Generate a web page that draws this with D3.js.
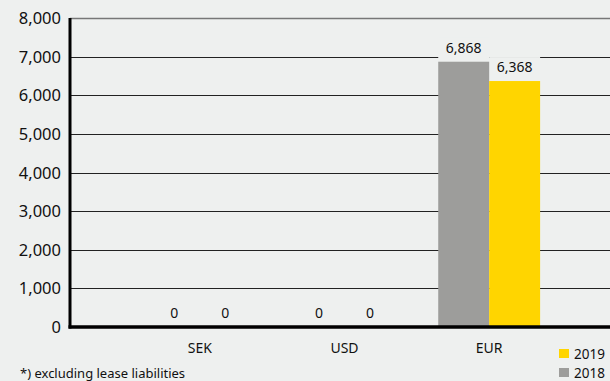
<!DOCTYPE html>
<html>
<head>
<meta charset="utf-8">
<script src="https://cdn.jsdelivr.net/npm/d3@7"></script>
<style>
  html, body { margin: 0; padding: 0; background: #eef0ef; }
  svg { display: block; font-family: "Noto Sans", "Open Sans", sans-serif; }
</style>
</head>
<body>
<div id="chart"></div>
<script>
const CATEGORIES = ["SEK", "USD", "EUR"];
const SERIES = ["2018", "2019"];
const VALUES_2018 = [0, 0, 6868];
const VALUES_2019 = [0, 0, 6368];
const Y_TICKS = [0, 1000, 2000, 3000, 4000, 5000, 6000, 7000, 8000];
const COLORS = { "2018": "#9d9d9b", "2019": "#ffd500" };
const FOOTNOTE = "*) excluding lease liabilities";

const width = 610, height = 381;
const plotLeft = 70, plotTop = 18, plotBottom = 327;

const svg = d3.select('#chart').append('svg')
  .attr('width', width)
  .attr('height', height);

svg.append('rect').attr('width', width).attr('height', height).attr('fill', '#eef0ef');

const y = d3.scaleLinear().domain([0, 8000]).range([plotBottom, plotTop]);
const x0 = d3.scaleBand().domain(CATEGORIES).range([127.5, 561.5]).padding(0);
const x1 = d3.scaleBand().domain(SERIES).range([0, x0.bandwidth()]).paddingInner(0).paddingOuter(0.42);

// gridlines
svg.append('g').selectAll('line')
  .data(Y_TICKS.filter(d => d > 0))
  .enter().append('line')
  .attr('x1', plotLeft).attr('x2', width)
  .attr('y1', d => Math.round(y(d)) + 0.5).attr('y2', d => Math.round(y(d)) + 0.5)
  .attr('stroke', d => d === 8000 ? '#777' : '#222')
  .attr('stroke-width', d => d === 8000 ? 1.5 : 1);

// y tick labels
svg.append('g').selectAll('text')
  .data(Y_TICKS)
  .enter().append('text')
  .attr('x', 61)
  .attr('y', d => y(d) + 6)
  .attr('text-anchor', 'end')
  .attr('font-size', 16.5)
  .attr('fill', '#111')
  .text(d => d3.format(',')(d));

const rows = CATEGORIES.map((c, i) => ({ cat: c, vals: [
  { s: "2018", v: VALUES_2018[i] },
  { s: "2019", v: VALUES_2019[i] }
]}));

const groups = svg.append('g').selectAll('g')
  .data(rows)
  .enter().append('g')
  .attr('transform', d => `translate(${x0(d.cat)},0)`);

// label backgrounds (mask gridlines)
groups.selectAll('rect.bg')
  .data(d => d.vals.filter(e => e.v > 0))
  .enter().append('rect')
  .attr('class', 'bg')
  .attr('x', d => x1(d.s))
  .attr('width', x1.bandwidth())
  .attr('y', d => y(d.v) - 24)
  .attr('height', 24)
  .attr('fill', '#eef0ef');

groups.selectAll('rect.bar')
  .data(d => d.vals)
  .enter().append('rect')
  .attr('class', 'bar')
  .attr('x', d => x1(d.s))
  .attr('width', x1.bandwidth())
  .attr('y', d => y(d.v))
  .attr('height', d => y(0) - y(d.v))
  .attr('fill', d => COLORS[d.s]);

groups.selectAll('text')
  .data(d => d.vals)
  .enter().append('text')
  .attr('x', d => x1(d.s) + x1.bandwidth() / 2)
  .attr('y', d => y(d.v) - 9)
  .attr('text-anchor', 'middle')
  .attr('font-size', 14)
  .attr('fill', '#111')
  .text(d => d3.format(',')(d.v));

// axes lines
svg.append('line')
  .attr('x1', plotLeft).attr('x2', plotLeft)
  .attr('y1', plotTop).attr('y2', plotBottom + 1.5)
  .attr('stroke', '#000').attr('stroke-width', 3);
svg.append('line')
  .attr('x1', plotLeft - 1.5).attr('x2', width)
  .attr('y1', plotBottom).attr('y2', plotBottom)
  .attr('stroke', '#000').attr('stroke-width', 3.5);

// category labels
svg.append('g').selectAll('text')
  .data(CATEGORIES)
  .enter().append('text')
  .attr('x', d => x0(d) + x0.bandwidth() / 2)
  .attr('y', 353)
  .attr('text-anchor', 'middle')
  .attr('font-size', 14)
  .attr('fill', '#111')
  .text(d => d);

// legend
const legend = svg.append('g').selectAll('g')
  .data(["2019", "2018"])
  .enter().append('g')
  .attr('transform', (d, i) => `translate(559,${349 + i * 19})`);
legend.append('rect').attr('width', 10).attr('height', 9).attr('fill', d => COLORS[d]);
legend.append('text').attr('x', 15).attr('y', 10).attr('font-size', 13.5).attr('fill', '#111').text(d => d);

svg.append('text')
  .attr('x', 20).attr('y', 378)
  .attr('font-size', 13)
  .attr('fill', '#111')
  .text(FOOTNOTE);
</script>
</body>
</html>
